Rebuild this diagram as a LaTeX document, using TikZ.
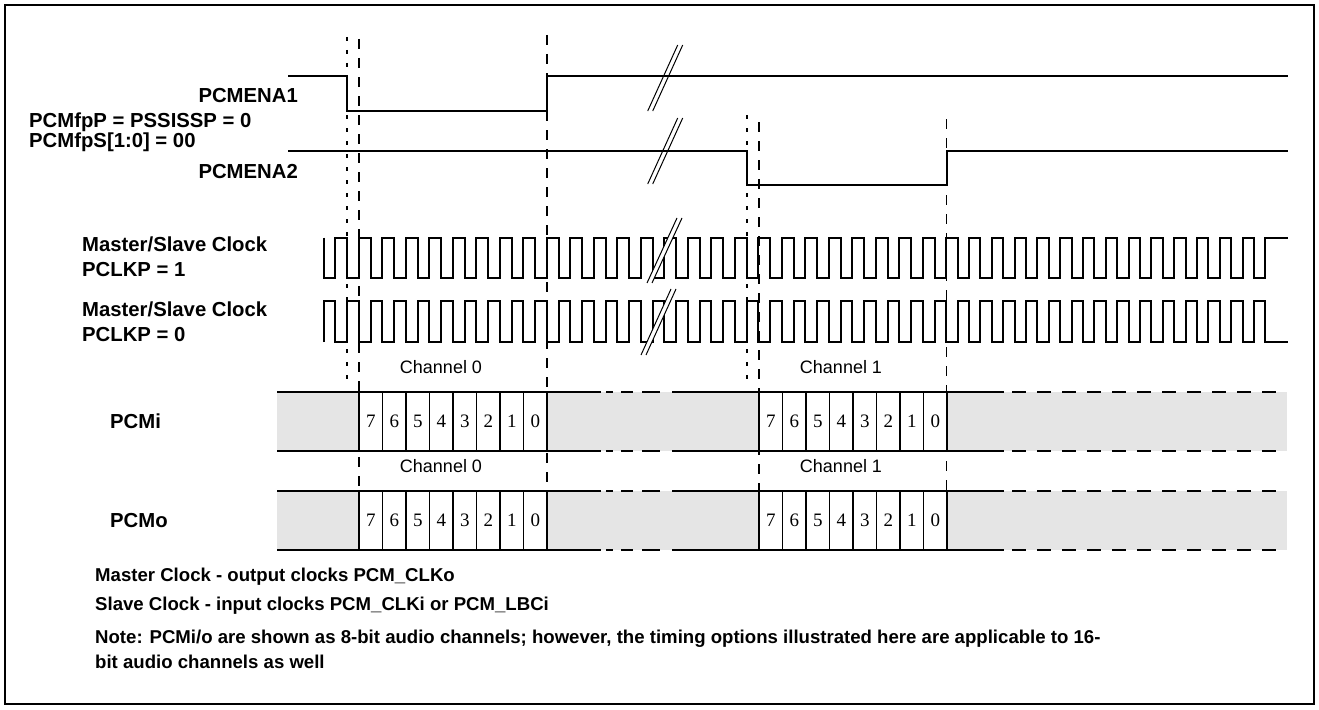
\documentclass[tikz,border=0pt]{standalone}
\usepackage{fontspec}
\setmainfont{Liberation Sans}
\newfontfamily\digfont{Liberation Serif}
\definecolor{barfill}{RGB}{229,229,229}
\begin{document}
\begin{tikzpicture}[x=1pt,y=-1pt,
  sig/.style={line width=2pt, line join=miter, line cap=butt},
  dotv/.style={line width=1.6pt, dash pattern=on 4pt off 9pt},
  dashv/.style={line width=1.8pt, dash pattern=on 10pt off 9pt},
  brk/.style={line width=1pt},
  barline/.style={line width=2pt},
  bardash/.style={line width=2pt, dash pattern=on 14pt off 11pt},
  cellbox/.style={draw, fill=white, line width=1.4pt},
  lbl/.style={font=\bfseries\fontsize{20.3}{24}\selectfont, inner sep=0pt},
  note/.style={font=\bfseries\fontsize{18.6}{22}\selectfont, inner sep=0pt, anchor=base west},
  chl/.style={font=\fontsize{18}{21}\selectfont, inner sep=0pt, anchor=base},
  dig/.style={font=\digfont\fontsize{19}{22}\selectfont, inner sep=0pt, anchor=base},
]
\useasboundingbox (0,0) rectangle (1319,709);
\draw[line width=2pt] (5,5) rectangle (1314,704);

% guide lines
\draw[dotv] (347,37) -- (347,384);
\draw[dashv] (359,39) -- (359,491);
\draw[dashv] (547,35) -- (547,491);
\draw[dotv] (747,115) -- (747,384);
\draw[dashv] (759,122) -- (759,491);
\draw[dashv] (946.5,119) -- (946.5,491);

% enable signals
\draw[sig] (288,75.7) -- (347,75.7) -- (347,110.7) -- (547,110.7) -- (547,75.7) -- (1288,75.7);
\draw[sig] (288,150.7) -- (747,150.7) -- (747,185) -- (946.5,185) -- (946.5,150.7) -- (1288,150.7);
\draw[brk] (647.7,111) -- (677.7,45);
\draw[brk] (652.7,111) -- (682.7,45);
\draw[brk] (647.7,184) -- (677.7,118);
\draw[brk] (652.7,184) -- (682.7,118);

% clock PCLKP = 1
\draw[sig] (323.5,237.5)
  \foreach \k in {0,...,25} { -- ++(0,40) -- ++(11.75,0) -- ++(0,-40) -- ++(11.75,0) }
  -- ++(0,40) -- ++(11.75,0) -- ++(0,-40)
  \foreach \k in {1,...,14} { -- ++(11.4,0) -- ++(0,40) -- ++(11.4,0) -- ++(0,-40) }
  -- (1288,237.5);
% clock PCLKP = 0
\draw[sig] (323.5,342)
  \foreach \k in {0,...,25} { -- ++(0,-41) -- ++(11.75,0) -- ++(0,41) -- ++(11.75,0) }
  -- ++(0,-41) -- ++(11.75,0) -- ++(0,41)
  \foreach \k in {1,...,14} { -- ++(11.4,0) -- ++(0,-41) -- ++(11.4,0) -- ++(0,41) }
  -- (1288,342);
% clock breaks
\fill[white] (647,283) -- (677,218) -- (682,218) -- (652,283) -- cycle;
\draw[brk] (647,283) -- (677,218);
\draw[brk] (652,283) -- (682,218);
\fill[white] (641,355) -- (671,289) -- (676,289) -- (646,355) -- cycle;
\draw[brk] (641,355) -- (671,289);
\draw[brk] (646,355) -- (676,289);

% data rows
\foreach \T/\B in {392/451, 491/550} {
  \fill[barfill] (277,\T) rectangle (359,\B);
  \fill[barfill] (547,\T) rectangle (759,\B);
  \fill[barfill] (946.5,\T) rectangle (1287,\B);
  \foreach \Y in {\T,\B} {
    \draw[barline] (277,\Y) -- (601,\Y);
    \draw[barline] (606,\Y) -- (613,\Y);
    \draw[barline] (621,\Y) -- (633,\Y);
    \draw[barline] (642,\Y) -- (660,\Y);
    \draw[barline] (672,\Y) -- (1004,\Y);
    \draw[bardash] (1012,\Y) -- (1287,\Y);
  }
  \foreach \X in {359,759} {
    \foreach \i [evaluate=\i as \d using int(7-\i)] in {0,...,7} {
      \draw[cellbox] ({\X+23.5*\i},\T) rectangle ({\X+23.5*(\i+1)},\B);
      \node[dig] at ({\X+23.5*\i+11.75},{(\T+\B)/2+6.4}) {\d};
    }
    \draw[barline] (\X,\T) -- ++(188,0);
    \draw[barline] (\X,\B) -- ++(188,0);
    \draw[barline] (\X,\T) -- (\X,\B);
    \draw[barline] ({\X+188},\T) -- ({\X+188},\B);
  }
}

% channel labels
\node[chl] (ch0i) at (441,373.5) {Channel 0};
\node[chl] (ch1i) at (841,373.5) {Channel 1};
\node[chl] (ch0o) at (441,472.5) {Channel 0};
\node[chl] (ch1o) at (841,472.5) {Channel 1};

% labels
\node[lbl, anchor=base east] (ena1) at (298,102) {PCMENA1};
\node[lbl, anchor=base west] (fpp) at (29,127) {PCMfpP = PSSISSP = 0};
\node[lbl, anchor=base west] (fps) at (29,147) {PCMfpS[1:0] = 00};
\node[lbl, anchor=base east] (ena2) at (298,178) {PCMENA2};
\node[lbl, anchor=base west] (clk1a) at (82,251.5) {Master/Slave Clock};
\node[lbl, anchor=base west] (clk1b) at (82,276.5) {PCLKP = 1};
\node[lbl, anchor=base west] (clk2a) at (82,316.5) {Master/Slave Clock};
\node[lbl, anchor=base west] (clk2b) at (82,341.5) {PCLKP = 0};
\node[lbl, anchor=base west] (pcmi) at (110,428) {PCMi};
\node[lbl, anchor=base west] (pcmo) at (110,527) {PCMo};

% notes
\node[note] (n1) at (95,581.5) {Master Clock - output clocks PCM\_CLKo};
\node[note] (n2) at (95,610.5) {Slave Clock - input clocks PCM\_CLKi or PCM\_LBCi};
\node[note] (n3) at (95,643.5) {Note: PCMi/o are shown as 8-bit audio channels; however, the timing options illustrated here are applicable to 16-};
\node[note] (n4) at (95,668.5) {bit audio channels as well};
\end{tikzpicture}
\end{document}
